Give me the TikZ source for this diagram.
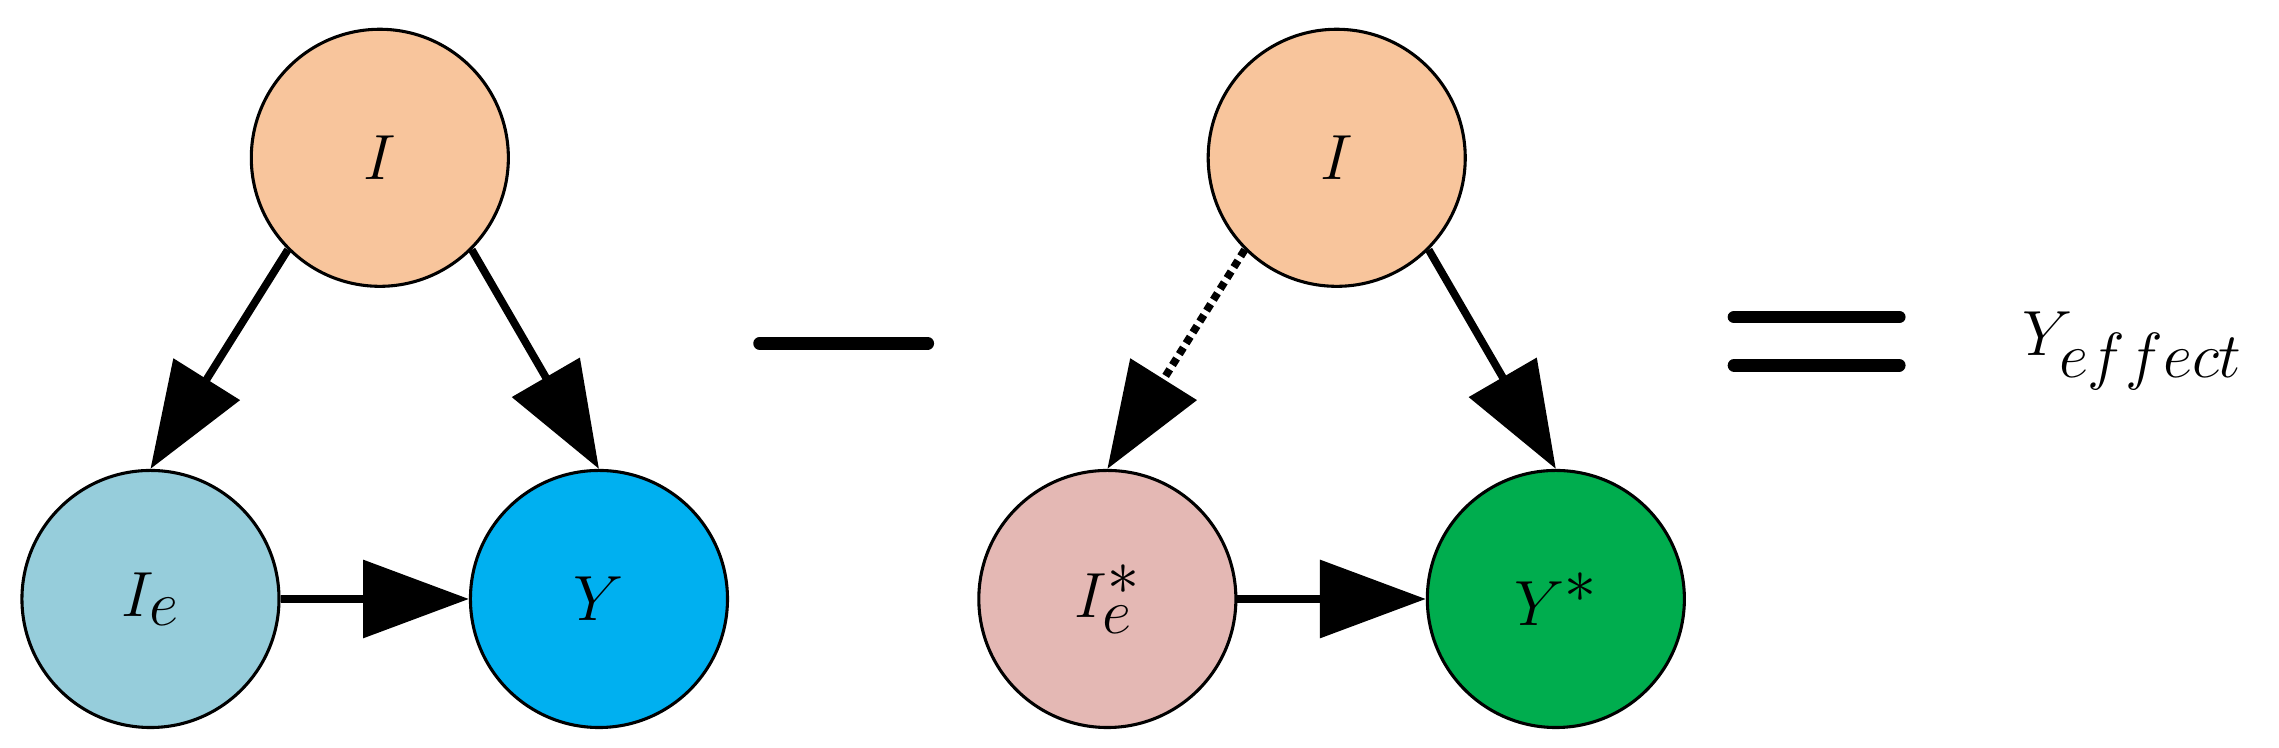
\documentclass[tikz,border=0pt]{standalone}
\usetikzlibrary{arrows.meta}
\begin{document}
\begin{tikzpicture}[x=0.02cm,y=-0.02cm,
  v/.style={circle,draw=black,line width=1.2pt,minimum size=3.52cm,inner sep=0pt,font=\fontsize{54}{60}\selectfont},
  e/.style={line width=3pt,-{Triangle[length=1.45cm,width=1.05cm]}},
  bar/.style={line width=5pt,line cap=round}]
\useasboundingbox (0,0) rectangle (1560,512);
\definecolor{co}{HTML}{F8C59C}
\node[v,fill=co] (i1) at (260,108) {$I$};
\node[v,fill={rgb,255:red,150;green,205;blue,219}] (ie) at (103,410) {$I_e$};
\node[v,fill={rgb,255:red,0;green,176;blue,240}] (y) at (410,410) {$Y$};
\node[v,fill=co] (i2) at (915,108) {$I$};
\node[v,fill={rgb,255:red,228;green,184;blue,180}] (ie2) at (758,410) {$I_e^*$};
\node[v,fill={rgb,255:red,0;green,173;blue,78}] (y2) at (1065,410) {$Y^*$};
\draw[e] (i1.-135) -- (ie.north);
\draw[e] (i1.-45) -- (y.north);
\draw[e] (ie.east) -- (y.west);
\draw[e,dotted] (i2.-135) -- (ie2.north);
\draw[e] (i2.-45) -- (y2.north);
\draw[e] (ie2.east) -- (y2.west);
\coordinate (m1) at (520,235); \coordinate (m2) at (635,235);
\draw[bar] (m1) -- (m2);
\coordinate (q1) at (1187,217); \coordinate (q2) at (1300,217);
\coordinate (q3) at (1187,250); \coordinate (q4) at (1300,250);
\draw[bar] (q1) -- (q2); \draw[bar] (q3) -- (q4);
\node[font=\fontsize{38}{44}\selectfont] (ye) at (1460,240) {$Y_{effect}$};
\end{tikzpicture}
\end{document}
